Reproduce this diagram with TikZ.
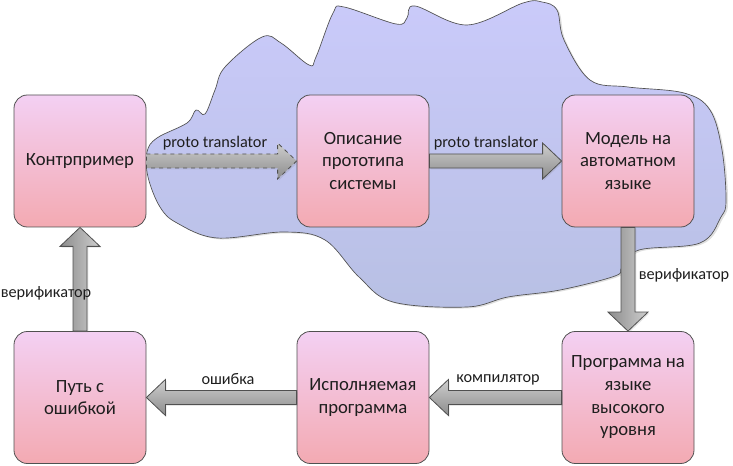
\documentclass[tikz,border=0pt]{standalone}
\usepackage{fontspec}
\setmainfont{Carlito}
\usetikzlibrary{calc,shadows}
\definecolor{boxtop}{RGB}{243,208,243}
\definecolor{boxbot}{RGB}{243,170,178}
\definecolor{cloudtop}{RGB}{202,202,250}
\definecolor{cloudbot}{RGB}{184,192,228}
\definecolor{arrlight}{RGB}{206,206,206}
\definecolor{arrdark}{RGB}{140,140,140}
\definecolor{edgegray}{RGB}{80,80,80}
\definecolor{txt}{RGB}{30,30,30}
\tikzset{
  stepbox/.style={draw=edgegray, line width=0.6pt, rounded corners=10pt,
    top color=boxtop, bottom color=boxbot, minimum width=99pt, minimum height=99pt,
    inner sep=0pt, align=center, text=txt, font=\fontsize{14}{17}\selectfont},
  harrow/.style={draw=edgegray, line width=0.6pt, top color=arrlight, bottom color=arrdark,
    drop shadow={shadow xshift=1pt, shadow yshift=-1pt, opacity=0.2}},
  varrow/.style={draw=edgegray, line width=0.6pt, left color=arrdark, right color=arrlight,
    drop shadow={shadow xshift=1pt, shadow yshift=-1pt, opacity=0.2}},
  lbl/.style={text=txt, font=\fontsize{12.2}{14}\selectfont, inner sep=0pt},
}
% horizontal block arrow from east of #2 to west of #3 (left to right)
\newcommand\arrowLR[3][]{%
  \path[harrow,#1] ($(#2.east)+(0,-7)$) -- ($(#3.west)+(-19,-7)$) -- ($(#3.west)+(-19,-18)$) --
    (#3.west) -- ($(#3.west)+(-19,18)$) -- ($(#3.west)+(-19,7)$) -- ($(#2.east)+(0,7)$) -- cycle;}
% horizontal block arrow from west of #2 to east of #3 (right to left)
\newcommand\arrowRL[3][]{%
  \path[harrow,#1] ($(#2.west)+(0,-7)$) -- ($(#3.east)+(19,-7)$) -- ($(#3.east)+(19,-18)$) --
    (#3.east) -- ($(#3.east)+(19,18)$) -- ($(#3.east)+(19,7)$) -- ($(#2.west)+(0,7)$) -- cycle;}
% vertical block arrow downwards from south of #1 to north of #2
\newcommand\arrowTB[2]{%
  \path[varrow] ($(#1.south)+(-7,0)$) -- ($(#2.north)+(-7,-19)$) -- ($(#2.north)+(-20,-19)$) --
    (#2.north) -- ($(#2.north)+(20,-19)$) -- ($(#2.north)+(7,-19)$) -- ($(#1.south)+(7,0)$) -- cycle;}
% vertical block arrow upwards from north of #1 to south of #2
\newcommand\arrowBT[2]{%
  \path[varrow] ($(#1.north)+(-7,0)$) -- ($(#2.south)+(-7,19)$) -- ($(#2.south)+(-20,19)$) --
    (#2.south) -- ($(#2.south)+(20,19)$) -- ($(#2.south)+(7,19)$) -- ($(#1.north)+(7,0)$) -- cycle;}
\begin{document}
\begin{tikzpicture}[x=0.75pt,y=-0.75pt]
\useasboundingbox (0,0) rectangle (733,466);
% cloud
\path[draw=edgegray, line width=0.5pt, top color=cloudtop, bottom color=cloudbot,
  drop shadow={shadow xshift=1.5pt, shadow yshift=-1pt, opacity=0.25}]
  plot[smooth cycle, tension=0.6] coordinates {
  (147,152) (157,138) (187,123) (196,110) (205,114) (215,90) (225,67) (262,37) (281,43)
  (309,65) (316,57) (333,13) (344,7) (396,24) (407,18) (415,6) (467,25) (523,3) (542,2)
  (557,10) (564,40) (590,80) (628,87) (684,93) (710,110) (722,150) (726,200) (721,217)
  (700,243) (639,250) (622,267) (615,276) (560,290) (508,297) (467,307) (393,302) (359,277)
  (325,240) (284,232) (217,238) (177,223) (160,207) (148,177)};
% boxes
\node[stepbox] (k) at (80,161) {Контрпример};
\node[stepbox] (o) at (363,161) {Описание\\прототипа\\системы};
\node[stepbox] (m) at (628,161) {Модель на\\автоматном\\языке};
\node[stepbox] (p) at (80,397.5) {Путь с\\ошибкой};
\node[stepbox] (i) at (363,397.5) {Исполняемая\\программа};
\node[stepbox] (h) at (628,397.5) {Программа на\\языке\\высокого\\уровня};
% arrows
\arrowLR[dashed]{k}{o}
\arrowLR{o}{m}
\arrowTB{m}{h}
\arrowRL{h}{i}
\arrowRL{i}{p}
\arrowBT{p}{k}
% labels
\node[lbl] (l1) at (215,143) {proto translator};
\node[lbl] (l2) at (486,143) {proto translator};
\node[lbl] (l3) at (684,275) {верификатор};
\node[lbl] (l4) at (46,293) {верификатор};
\node[lbl] (l5) at (498,380) {компилятор};
\node[lbl] (l6) at (228,379) {ошибка};
\end{tikzpicture}
\end{document}
